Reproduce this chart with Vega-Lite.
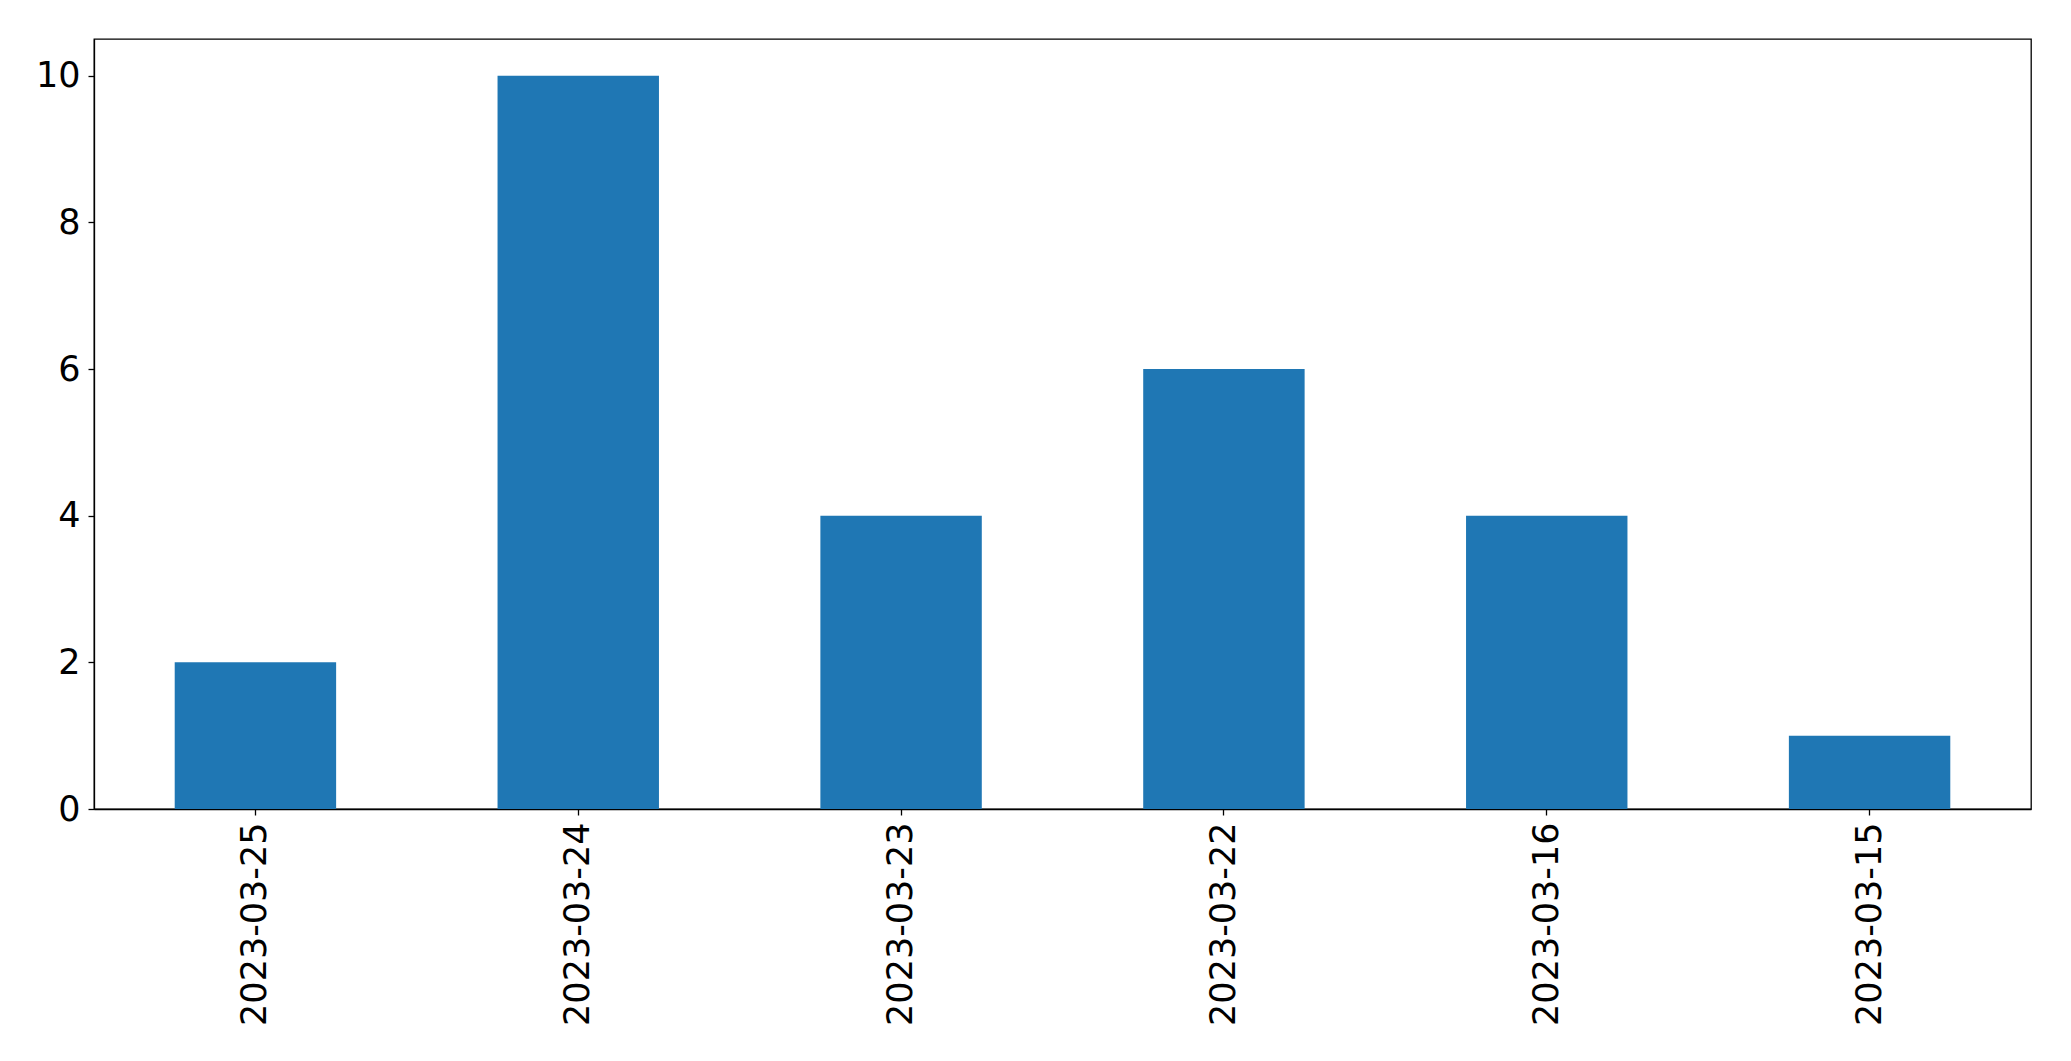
{
  "$schema": "https://vega.github.io/schema/vega-lite/v6.json",
  "autosize": {"type": "none"},
  "width": 1937,
  "height": 770,
  "padding": {"left": 94, "top": 39, "right": 40, "bottom": 252},
  "background": "white",
  "config": {
    "view": {"stroke": "black", "strokeWidth": 1.3},
    "font": "DejaVu Sans",
    "axis": {
      "grid": false,
      "domainColor": "black",
      "domainWidth": 1.3,
      "tickColor": "black",
      "tickWidth": 1.3,
      "tickSize": 6,
      "labelColor": "black",
      "labelFont": "DejaVu Sans",
      "labelFontSize": 35,
      "labelPadding": 7,
      "labelLimit": 0,
      "title": null
    }
  },
  "data": {
    "values": [
      {"date": "2023-03-25", "count": 2},
      {"date": "2023-03-24", "count": 10},
      {"date": "2023-03-23", "count": 4},
      {"date": "2023-03-22", "count": 6},
      {"date": "2023-03-16", "count": 4},
      {"date": "2023-03-15", "count": 1}
    ]
  },
  "mark": {"type": "bar", "color": "#1f77b4"},
  "encoding": {
    "x": {
      "field": "date",
      "type": "nominal",
      "sort": null,
      "scale": {"paddingInner": 0.5, "paddingOuter": 0.25},
      "axis": {"labelAngle": 270, "labelAlign": "right", "labelBaseline": "middle"}
    },
    "y": {
      "field": "count",
      "type": "quantitative",
      "scale": {"domain": [0, 10.5], "nice": false, "zero": true},
      "axis": {"values": [0, 2, 4, 6, 8, 10], "labelPadding": 8}
    }
  }
}
